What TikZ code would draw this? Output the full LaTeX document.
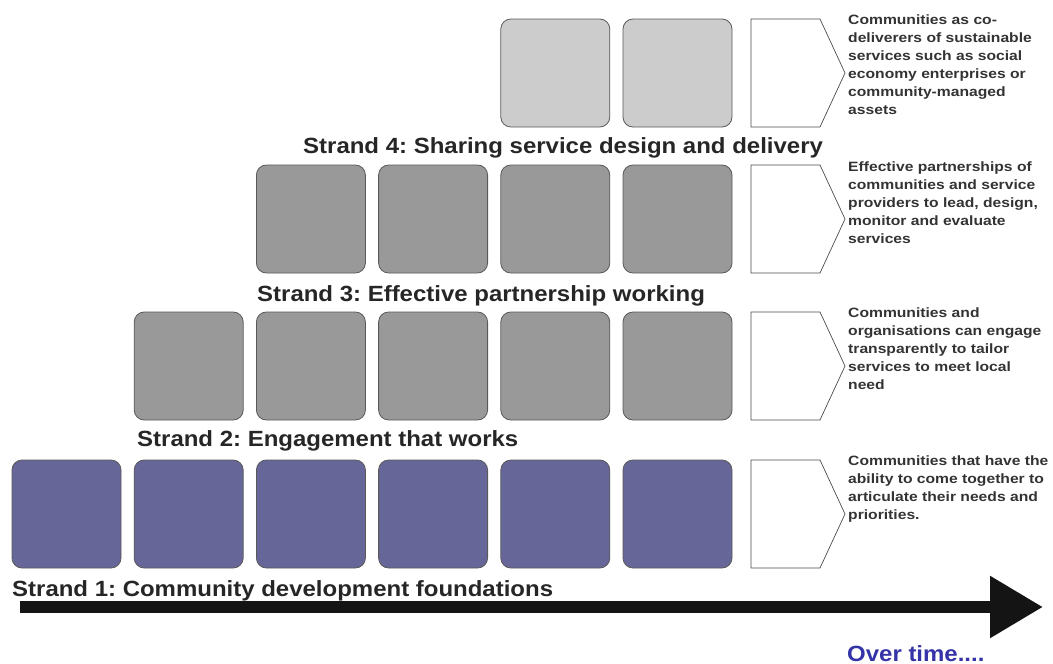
\documentclass[tikz,border=0pt]{standalone}
\usepackage{fontspec}
\setmainfont{Liberation Sans}
\newfontfamily\strandfont[FakeStretch=1.09]{Liberation Sans}
\newfontfamily\outcomefont[FakeStretch=1.16]{Liberation Sans}
\usetikzlibrary{arrows.meta,positioning}
\definecolor{lightbox}{HTML}{CCCCCC}
\definecolor{midbox}{HTML}{999999}
\definecolor{basebox}{HTML}{666699}
\definecolor{timeblue}{HTML}{3434A8}
\frenchspacing
\begin{document}
\begin{tikzpicture}[x=1pt,y=-1pt,
    box/.style={draw=black!65,line width=0.8pt,rounded corners=10pt,
      minimum width=109pt,minimum height=108pt,inner sep=0pt},
    flag/.style={draw=black!70,line width=0.7pt,fill=white},
    strand/.style={anchor=base west,inner sep=0pt,text=black!85,
      font=\strandfont\bfseries\fontsize{22}{26}\selectfont},
    outcome/.style={anchor=north west,align=left,inner sep=0pt,text=black!80,
      font=\outcomefont\bfseries\fontsize{13.5}{18}\selectfont}]
  \useasboundingbox (0,0) rectangle (1053,664);

  % rows of blocks
  \foreach \row/\yc/\first/\col in {1/514/0/basebox,2/366/1/midbox,3/219/2/midbox,4/73/4/lightbox}
    \foreach \i in {\first,...,5}
      \node[box,fill=\col] (b\row-\i) at ({66.5+122.2*\i},\yc) {};

  % outcome flags
  \foreach \row/\top in {1/460,2/312,3/165,4/19}
    \draw[flag] (751,\top) -- (820,\top) -- (845,\top+54) -- (820,\top+108)
      -- (751,\top+108) -- cycle;

  \node[outcome] (o4) at (848,15) {Communities as co-\\deliverers of sustainable\\services such as social\\economy enterprises or\\community-managed\\assets};
  \node[outcome] (o3) at (848,162) {Effective partnerships of\\communities and service\\providers to lead, design,\\monitor and evaluate\\services};
  \node[outcome] (o2) at (848,308) {Communities and\\organisations can engage\\transparently to tailor\\services to meet local\\need};
  \node[outcome] (o1) at (848,456) {Communities that have the\\ability to come together to\\articulate their needs and\\priorities.};

  % strand labels
  \node[strand] (s4) at (303,153) {Strand 4: Sharing service design and delivery};
  \node[strand] (s3) at (257,301) {Strand 3: Effective partnership working};
  \node[strand] (s2) at (137,446) {Strand 2: Engagement that works};
  \node[strand] (s1) at (12,596) {Strand 1: Community development foundations};

  % time arrow
  \coordinate (t0) at (20,607);
  \coordinate (t1) at (1043,607);
  \draw[black!92,line width=12pt,-{Triangle[length=53pt,width=59pt]}] (t0) -- (t1);
  \node[anchor=base west,inner sep=0pt,text=timeblue,
    font=\strandfont\bfseries\fontsize{22}{26}\selectfont]
    (time) at (847,661) {Over time....};
\end{tikzpicture}
\end{document}
